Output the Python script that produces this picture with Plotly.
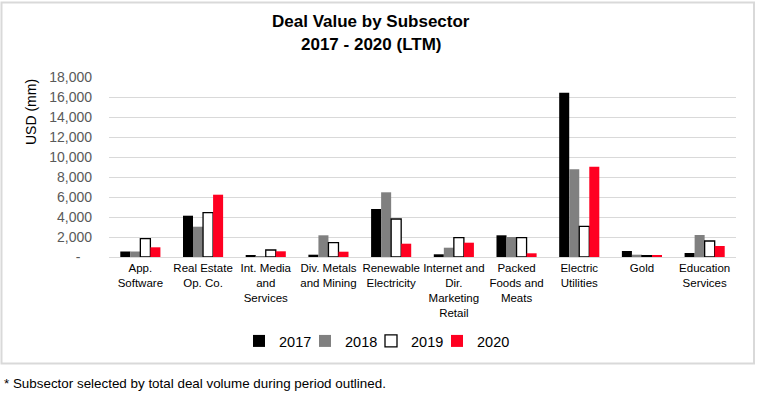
import plotly.graph_objects as go

categories = [
    "App.<br>Software",
    "Real Estate<br>Op. Co.",
    "Int. Media<br>and<br>Services",
    "Div. Metals<br>and Mining",
    "Renewable<br>Electricity",
    "Internet and<br>Dir.<br>Marketing<br>Retail",
    "Packed<br>Foods and<br>Meats",
    "Electric<br>Utilities",
    "Gold",
    "Education<br>Services",
]
v2017 = [550, 4130, 130, 230, 4800, 270, 2170, 16430, 600, 400]
v2018 = [550, 3030, 50, 2170, 6470, 930, 2000, 8770, 230, 2200]
v2019 = [1830, 4430, 700, 1430, 3800, 1930, 1930, 3070, 130, 1600]
v2020 = [970, 6230, 570, 530, 1330, 1430, 370, 9030, 170, 1100]

y_tickvals = [0, 2000, 4000, 6000, 8000, 10000, 12000, 14000, 16000, 18000]
y_ticktext = ["-\u00a0\u00a0\u00a0", "2,000", "4,000", "6,000", "8,000", "10,000",
              "12,000", "14,000", "16,000", "18,000"]

W, H = 760, 396
L, R, T, B = 109, 736, 77, 257
FONT = "Liberation Sans, Arial, sans-serif"


def px_x(x):
    return (x - L) / (R - L)


def px_y(y):
    return (B - y) / (B - T)


series = [
    ("2017", v2017, dict(color="#000000", line=dict(width=0))),
    ("2018", v2018, dict(color="#808080", line=dict(width=0))),
    ("2019", v2019, dict(color="#ffffff", line=dict(color="#000000", width=1.3))),
    ("2020", v2020, dict(color="#ff0021", line=dict(width=0))),
]
legend_names = ["legend", "legend2", "legend3", "legend4"]

fig = go.Figure()
for (name, vals, marker), lg in zip(series, legend_names):
    fig.add_trace(go.Bar(name=name, x=categories, y=vals, marker=marker, legend=lg))

legend_layouts = {}
for i, lg in enumerate(legend_names):
    legend_layouts[lg] = dict(
        orientation="h", x=px_x(239 + 66 * i), xanchor="left",
        y=px_y(341), yanchor="middle",
        font=dict(size=14.5, color="#000000"),
        bgcolor="rgba(0,0,0,0)", borderwidth=0,
    )

fig.update_layout(
    width=W, height=H,
    margin=dict(l=L, r=W - R, t=T, b=H - B, pad=0),
    paper_bgcolor="white", plot_bgcolor="white",
    font=dict(family=FONT, color="#000000"),
    barmode="group", bargap=0.36, bargroupgap=0,
    showlegend=True,
    xaxis=dict(showgrid=False, showline=True, linecolor="#d9d9d9", linewidth=1,
               ticks="", tickfont=dict(size=11.5, color="#000000"),
               tickangle=0, automargin=False),
    yaxis=dict(range=[0, 18000], tickvals=y_tickvals, ticktext=y_ticktext,
               showgrid=True, gridcolor="#d9d9d9", gridwidth=1,
               zeroline=False, showline=False, ticks="",
               tickfont=dict(size=14, color="#595959"),
               ticklabelstandoff=16, automargin=False),
    shapes=[dict(type="rect", xref="paper", yref="paper",
                 x0=px_x(1.5), x1=px_x(754), y0=px_y(363.5), y1=px_y(2.5),
                 line=dict(color="#d9d9d9", width=2), fillcolor="rgba(0,0,0,0)",
                 layer="below")],
    annotations=[
        dict(text="<b>Deal Value by Subsector</b>", xref="paper", yref="paper",
             x=px_x(371), y=px_y(22), xanchor="center", yanchor="middle",
             showarrow=False, font=dict(size=17, color="#000000")),
        dict(text="<b>2017 - 2020 (LTM)</b>", xref="paper", yref="paper",
             x=px_x(371), y=px_y(45), xanchor="center", yanchor="middle",
             showarrow=False, font=dict(size=17, color="#000000")),
        dict(text="USD (mm)", xref="paper", yref="paper",
             x=px_x(31), y=px_y(112), xanchor="center", yanchor="middle",
             textangle=-90, showarrow=False, font=dict(size=14, color="#000000")),
        dict(text="* Subsector selected by total deal volume during period outlined.",
             xref="paper", yref="paper",
             x=px_x(2), y=px_y(383), xanchor="left", yanchor="middle",
             showarrow=False, font=dict(size=13.4, color="#000000")),
    ],
)
fig.update_layout(**legend_layouts)

fig.write_html("out.html", config={"displayModeBar": False},
               post_script="document.body.style.margin='0';document.body.style.padding='0';")
